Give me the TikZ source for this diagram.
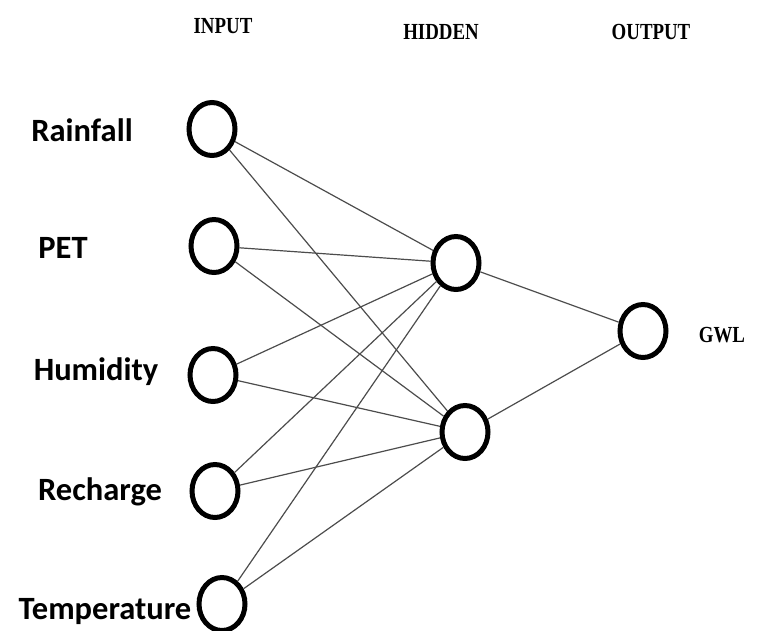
\documentclass[tikz,border=0pt]{standalone}
\usepackage{fontspec}
\setmainfont{Liberation Serif}
\newfontfamily\lblfont{Carlito}
\newfontfamily\headfont[FakeStretch=0.82]{Liberation Serif}
\usetikzlibrary{shapes.geometric}

\begin{document}
\begin{tikzpicture}[x=1pt, y=-1pt,
  main/.style = {draw, ellipse, line width=5pt, minimum width=46pt, minimum height=53pt, inner sep=0pt},
  lbl/.style = {font=\lblfont\bfseries\fontsize{32.5}{32.5}\selectfont, inner sep=0pt},
  head/.style = {font=\headfont\bfseries\fontsize{23}{23}\selectfont, inner sep=0pt},
  link/.style = {draw=black!70, line width=1.2pt}]
\useasboundingbox (0,0) rectangle (758,630);
% layer headings
\node[head] (hin) at (223,26) {INPUT};
\node[head] (hhid) at (441,32) {HIDDEN};
\node[head] (hout) at (651,32) {OUTPUT};
% input layer
\node[main] (1) at (212,129) {};
\node[main] (2) at (214,246) {};
\node[main] (3) at (213,375) {};
\node[main] (4) at (215,491) {};
\node[main] (5) at (222,604) {};
\node[lbl] (r) at (82,130) {Rainfall};
\node[lbl] (p) at (63,248) {PET};
\node[lbl] (h) at (96,372) {Humidity};
\node[lbl] (rc) at (100,492) {Recharge};
\node[lbl] (t) at (105,612) {Temperature};
% hidden layer
\node[main] (6) at (456,263) {};
\node[main] (7) at (465,432) {};
% output layer
\node[main] (8) at (643,331) {};
\node[head] (g) at (722,335) {GWL};
\draw[link] (1) -- (6);
\draw[link] (1) -- (7);
\draw[link] (2) -- (6);
\draw[link] (2) -- (7);
\draw[link] (3) -- (6);
\draw[link] (3) -- (7);
\draw[link] (4) -- (6);
\draw[link] (4) -- (7);
\draw[link] (5) -- (6);
\draw[link] (5) -- (7);
\draw[link] (6) -- (8);
\draw[link] (7) -- (8);
\end{tikzpicture}
\end{document}
